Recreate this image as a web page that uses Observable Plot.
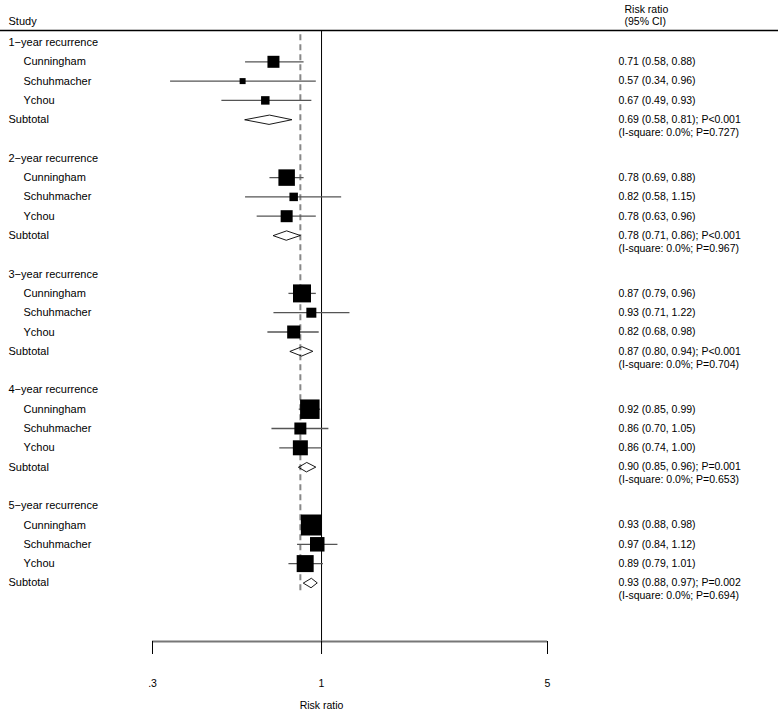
<!DOCTYPE html>
<html>
<head>
<meta charset="utf-8">
<script src="https://cdn.jsdelivr.net/npm/d3@7"></script>
<script src="https://cdn.jsdelivr.net/npm/@observablehq/plot@0.6"></script>
<style>
  html, body { margin: 0; padding: 0; background: #fff; }
</style>
</head>
<body>
<div id="chart"></div>
<script>
// ---- data ----
const groups = ["1−year recurrence", "2−year recurrence", "3−year recurrence", "4−year recurrence", "5−year recurrence"];
const studies = ["Cunningham", "Schuhmacher", "Ychou"];
const rr = [[0.71, 0.57, 0.67], [0.78, 0.82, 0.78], [0.87, 0.93, 0.82], [0.92, 0.86, 0.86], [0.93, 0.97, 0.89]];
const lo = [[0.58, 0.34, 0.49], [0.69, 0.58, 0.63], [0.79, 0.71, 0.68], [0.85, 0.70, 0.74], [0.88, 0.84, 0.79]];
const hi = [[0.88, 0.96, 0.93], [0.88, 1.15, 0.96], [0.96, 1.22, 0.98], [0.99, 1.05, 1.00], [0.98, 1.12, 1.01]];
const boxWeight = [[144, 36, 72], [272, 72, 144], [324, 100, 169], [380, 144, 225], [441, 210, 289]];
const subRR = [0.69, 0.78, 0.87, 0.90, 0.93];
const subLo = [0.58, 0.71, 0.80, 0.85, 0.88];
const subHi = [0.81, 0.86, 0.94, 0.96, 0.97];
const subP = ["P<0.001", "P<0.001", "P<0.001", "P=0.001", "P=0.002"];
const iSquare = ["0.0%", "0.0%", "0.0%", "0.0%", "0.0%"];
const hetP = ["0.727", "0.967", "0.704", "0.653", "0.694"];
const overallRR = 0.86;
const nullValue = 1;
const xTicks = [0.3, 1, 5];
const xTickLabels = [".3", "1", "5"];

// ---- build tables ----
const f2 = v => v.toFixed(2);
const rowsPerGroup = 6;
const headerRows = [], studyRows = [], subRows = [], diamond = [];
groups.forEach((g, gi) => {
  const base = gi * rowsPerGroup;
  headerRows.push({label: g, row: base});
  studies.forEach((s, si) => {
    studyRows.push({
      label: s, row: base + 1 + si,
      rr: rr[gi][si], lo: lo[gi][si], hi: hi[gi][si], w: boxWeight[gi][si],
      text: `${f2(rr[gi][si])} (${f2(lo[gi][si])}, ${f2(hi[gi][si])})`
    });
  });
  const r = base + 4;
  subRows.push({
    label: "Subtotal", row: r,
    text: `${f2(subRR[gi])} (${f2(subLo[gi])}, ${f2(subHi[gi])}); ${subP[gi]}`,
    het: `(I-square: ${iSquare[gi]}; P=${hetP[gi]})`
  });
  const h = 0.24;
  diamond.push({g: gi, x: subLo[gi], y: r});
  diamond.push({g: gi, x: subRR[gi], y: r - h});
  diamond.push({g: gi, x: subHi[gi], y: r});
  diamond.push({g: gi, x: subRR[gi], y: r + h});
});
const nRows = groups.length * rowsPerGroup;

// ---- layout (pixels) ----
const W = 778, H = 712;
const mL = 152, mR = 231, mT = 30, mB = 71;
const row0 = 42, rowStep = 19.3;
const tickLen = 13;
// row-space positions of the header rule and the axis line
const headerRuleRow = (mT - row0) / rowStep;
const axisRow = (H - mB - row0) / rowStep;
const tickEndRow = (H - mB + tickLen - row0) / rowStep;

const font = "'Liberation Sans', Arial, Helvetica, sans-serif";

const chart = Plot.plot({
  width: W,
  height: H,
  marginTop: mT,
  marginBottom: mB,
  marginLeft: mL,
  marginRight: mR,
  style: {fontFamily: font, fontSize: "10px", background: "#fff", color: "#000"},
  x: {type: "log", domain: [0.3, 5], axis: null},
  y: {domain: [0, nRows - 1], range: [row0, row0 + (nRows - 1) * rowStep], axis: null},
  r: {type: "sqrt", domain: [0, 441], range: [0, 21 / Math.sqrt(Math.PI)]},
  marks: [
    // header line across the whole width
    Plot.ruleY([headerRuleRow], {insetLeft: -mL, insetRight: -mR, stroke: "#000", strokeWidth: 1.3}),
    // null line
    Plot.ruleX([nullValue], {y1: headerRuleRow, y2: axisRow, stroke: "#000", strokeWidth: 1}),
    // overall estimate dashed line
    Plot.ruleX([overallRR], {y1: -0.4, y2: nRows - 1.4, stroke: "#888", strokeWidth: 2, strokeDasharray: "6,4"}),
    // confidence intervals
    Plot.link(studyRows, {x1: "lo", x2: "hi", y1: "row", y2: "row", stroke: "#555", strokeWidth: 1.3}),
    // weight boxes
    Plot.dot(studyRows, {x: "rr", y: "row", r: "w", symbol: "square", fill: "#000", stroke: "none"}),
    // subtotal diamonds
    Plot.line(diamond, {x: "x", y: "y", z: "g", curve: "linear-closed", stroke: "#000", strokeWidth: 0.9, fill: "none"}),
    // x axis
    Plot.ruleY([axisRow], {stroke: "#777", strokeWidth: 1.8}),
    Plot.ruleX(xTicks, {y1: axisRow, y2: tickEndRow, stroke: "#000", strokeWidth: 1}),
    Plot.text(xTicks, {x: d => d, text: d => xTickLabels[xTicks.indexOf(d)], frameAnchor: "bottom", dy: 45, fontSize: 10.5, fill: "#000"}),
    Plot.text(["Risk ratio"], {x: () => nullValue, frameAnchor: "bottom", dy: 67, fontSize: 10.5, fill: "#000"}),
    // left column
    Plot.text(["Study"], {frameAnchor: "top-left", dx: -144, dy: -13, textAnchor: "start", fontSize: 11, fill: "#000"}),
    Plot.text(headerRows, {y: "row", text: "label", frameAnchor: "left", dx: -144, textAnchor: "start", fontSize: 11, fill: "#000"}),
    Plot.text(studyRows, {y: "row", text: "label", frameAnchor: "left", dx: -129, textAnchor: "start", fontSize: 11, fill: "#000"}),
    Plot.text(subRows, {y: "row", text: "label", frameAnchor: "left", dx: -144, textAnchor: "start", fontSize: 11, fill: "#000"}),
    // right column
    Plot.text(["Risk ratio"], {frameAnchor: "top-right", dx: 77, dy: -25, textAnchor: "start", fontSize: 10.5, fill: "#000"}),
    Plot.text(["(95% CI)"], {frameAnchor: "top-right", dx: 77, dy: -13, textAnchor: "start", fontSize: 10.5, fill: "#000"}),
    Plot.text(studyRows, {y: "row", text: "text", frameAnchor: "right", dx: 71, textAnchor: "start", fontSize: 10.5, fill: "#000"}),
    Plot.text(subRows, {y: "row", text: "text", frameAnchor: "right", dx: 71, textAnchor: "start", fontSize: 10.5, fill: "#000"}),
    Plot.text(subRows, {y: "row", text: "het", frameAnchor: "right", dx: 71, dy: 13, textAnchor: "start", fontSize: 10.5, fill: "#000"})
  ]
});
document.getElementById("chart").appendChild(chart);
</script>
</body>
</html>
